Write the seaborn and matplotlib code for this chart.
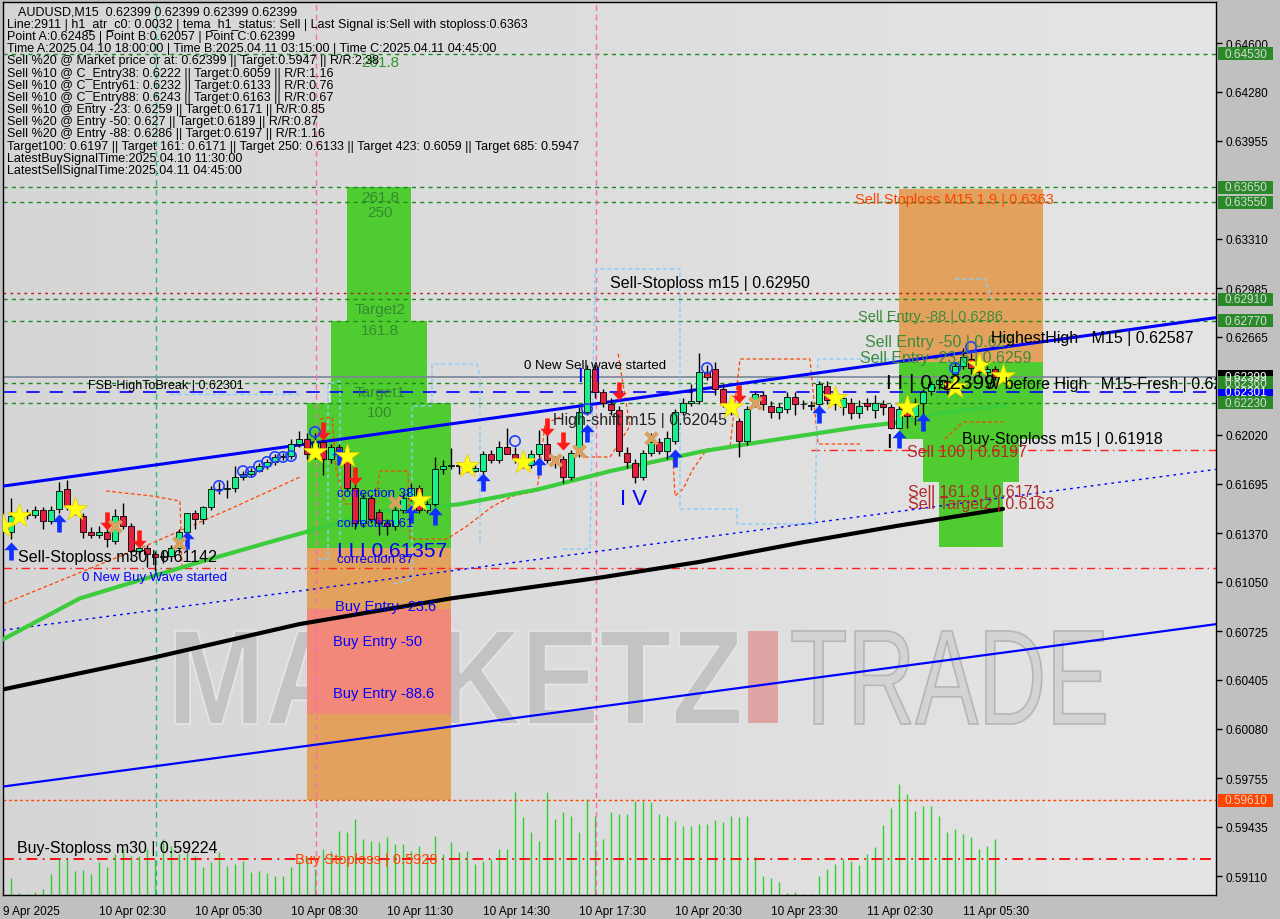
import numpy as np
import matplotlib
matplotlib.use("Agg")
import matplotlib.pyplot as plt
import seaborn as sns
from matplotlib.patches import Rectangle, PathPatch
from matplotlib.path import Path
from matplotlib.textpath import TextPath
from matplotlib.font_manager import FontProperties
from matplotlib.transforms import blended_transform_factory, Affine2D, IdentityTransform

# ---------------- data: AUDUSD M15 bars (index 0 = first bar on screen) ----------------
opens = [0.6138, 0.6148, 0.6150, 0.6149, 0.6152, 0.6145, 0.6153, 0.6166, 0.6155, 0.6148,
         0.6138, 0.6136, 0.6138, 0.6132, 0.6148, 0.6142, 0.6125, 0.6127, 0.6123, 0.6121,
         0.6122, 0.6127, 0.6138, 0.6150, 0.6146, 0.6154, 0.6166, 0.6166, 0.6167, 0.6174,
         0.6176, 0.6178, 0.6181, 0.6184, 0.6187, 0.6188, 0.6196, 0.6199, 0.6189, 0.6197,
         0.6186, 0.6194, 0.6191, 0.6167, 0.6144, 0.6160, 0.6151, 0.6144, 0.6142, 0.6152,
         0.6160, 0.6167, 0.6152, 0.6156, 0.6179, 0.6181, 0.6182, 0.6181, 0.6178, 0.6178,
         0.6189, 0.6185, 0.6194, 0.6189, 0.6186, 0.6182, 0.6189, 0.6196, 0.6185, 0.6186,
         0.6174, 0.6190, 0.6217, 0.6245, 0.6230, 0.6222, 0.6218, 0.6190, 0.6183, 0.6174,
         0.6190, 0.6197, 0.6191, 0.6198, 0.6217, 0.6223, 0.6224, 0.6243, 0.6245, 0.6232,
         0.6222, 0.6211, 0.6198, 0.6222, 0.6228, 0.6221, 0.6217, 0.6219, 0.6227, 0.6222,
         0.6221, 0.6222, 0.6234, 0.6225, 0.6220, 0.6223, 0.6216, 0.6223, 0.6218, 0.6222,
         0.6220, 0.6206, 0.6217, 0.6214, 0.6223, 0.6231, 0.6235, 0.6237, 0.6242, 0.6247,
         0.6252, 0.6245, 0.6243, 0.6245]
highs = [0.6160, 0.6153, 0.6153, 0.6155, 0.6154, 0.6155, 0.6171, 0.6172, 0.6158, 0.6150,
         0.6141, 0.6142, 0.6140, 0.6153, 0.6157, 0.6144, 0.6135, 0.6129, 0.6125, 0.6126,
         0.6129, 0.6140, 0.6150, 0.6152, 0.6155, 0.6168, 0.6171, 0.6172, 0.6181, 0.6178,
         0.6180, 0.6183, 0.6186, 0.6189, 0.6190, 0.6199, 0.6204, 0.6203, 0.6203, 0.6199,
         0.6196, 0.6196, 0.6193, 0.6170, 0.6163, 0.6162, 0.6153, 0.6146, 0.6154, 0.6163,
         0.6170, 0.6169, 0.6158, 0.6187, 0.6185, 0.6193, 0.6184, 0.6183, 0.6183, 0.6191,
         0.6192, 0.6198, 0.6206, 0.6194, 0.6190, 0.6192, 0.6205, 0.6210, 0.6188, 0.6188,
         0.6192, 0.6220, 0.6248, 0.62485, 0.6232, 0.6226, 0.6221, 0.6194, 0.6186, 0.6192,
         0.6203, 0.6200, 0.6204, 0.6219, 0.6226, 0.6235, 0.6256, 0.6248, 0.6250, 0.6235,
         0.6225, 0.6213, 0.6221, 0.6231, 0.6231, 0.6224, 0.6223, 0.6230, 0.6230, 0.6225,
         0.6224, 0.6237, 0.6237, 0.6228, 0.6229, 0.6226, 0.6225, 0.6226, 0.6228, 0.6225,
         0.6222, 0.6222, 0.6220, 0.6226, 0.6232, 0.6237, 0.6240, 0.6240, 0.6250, 0.62587,
         0.6256, 0.6248, 0.6247, 0.6247]
lows = [0.6133, 0.6145, 0.6146, 0.6147, 0.6140, 0.6143, 0.6150, 0.6152, 0.6149, 0.6134,
        0.6134, 0.6134, 0.6128, 0.6130, 0.6140, 0.6120, 0.6122, 0.6115, 0.6112, 0.6117,
        0.6119, 0.6124, 0.6136, 0.6140, 0.6143, 0.6152, 0.6163, 0.6160, 0.6164, 0.6172,
        0.6174, 0.6177, 0.6179, 0.6182, 0.6185, 0.6186, 0.6194, 0.6186, 0.6186, 0.6175,
        0.6183, 0.6188, 0.6165, 0.6140, 0.6141, 0.6144, 0.6136, 0.6136, 0.6139, 0.6150,
        0.6158, 0.6150, 0.6150, 0.6155, 0.6176, 0.6179, 0.6176, 0.6177, 0.6177, 0.6176,
        0.6183, 0.6183, 0.6189, 0.6183, 0.6180, 0.6180, 0.6187, 0.6183, 0.6180, 0.6170,
        0.6172, 0.6187, 0.6215, 0.6226, 0.6220, 0.6215, 0.6188, 0.6180, 0.6170, 0.6172,
        0.6188, 0.6189, 0.6186, 0.6196, 0.6215, 0.6221, 0.6222, 0.6238, 0.6228, 0.6220,
        0.6215, 0.6187, 0.6195, 0.6220, 0.6218, 0.6213, 0.6212, 0.6216, 0.6215, 0.6219,
        0.6218, 0.6214, 0.6222, 0.6218, 0.6215, 0.6212, 0.6213, 0.6218, 0.6213, 0.6215,
        0.62057, 0.6206, 0.6206, 0.6208, 0.6215, 0.6228, 0.6232, 0.6229, 0.6240, 0.6245,
        0.6242, 0.6240, 0.6240, 0.6238]
closes = [0.6148, 0.6150, 0.6149, 0.6152, 0.6145, 0.6152, 0.6165, 0.6155, 0.6151, 0.6138,
          0.6136, 0.6138, 0.6133, 0.6148, 0.6142, 0.6125, 0.6127, 0.6123, 0.6121, 0.6122,
          0.6127, 0.6138, 0.6150, 0.6146, 0.6154, 0.6166, 0.6166, 0.6167, 0.6174, 0.6176,
          0.6178, 0.6181, 0.6184, 0.6187, 0.6188, 0.6196, 0.6199, 0.6189, 0.6197, 0.6186,
          0.6194, 0.6191, 0.6167, 0.6144, 0.6160, 0.6146, 0.6144, 0.6142, 0.6152, 0.6160,
          0.6167, 0.6152, 0.6156, 0.6179, 0.6181, 0.6182, 0.6181, 0.6180, 0.6180, 0.6189,
          0.6185, 0.6194, 0.6189, 0.6186, 0.6183, 0.6189, 0.6196, 0.6185, 0.6183, 0.6174,
          0.6190, 0.6217, 0.6245, 0.6230, 0.6223, 0.6218, 0.6191, 0.6184, 0.6174, 0.6190,
          0.6197, 0.6191, 0.6200, 0.6217, 0.6223, 0.6224, 0.6243, 0.6240, 0.6232, 0.6222,
          0.6219, 0.6198, 0.6219, 0.6229, 0.6222, 0.6217, 0.6220, 0.6227, 0.6222, 0.6222,
          0.6221, 0.6235, 0.6225, 0.6222, 0.6226, 0.6216, 0.6221, 0.6221, 0.6223, 0.6220,
          0.6206, 0.6219, 0.6214, 0.6222, 0.6230, 0.6235, 0.6238, 0.6232, 0.6247, 0.6253,
          0.6246, 0.6243, 0.6245, 0.62399]
volumes = [170, 20, 10, 30, 60, 210, 360, 360, 240, 250, 210, 330, 280, 410, 460, 390, 390, 460,
           360, 560, 490, 410, 430, 390, 280, 330, 430, 290, 310, 340, 230, 240, 220, 190, 190,
           280, 340, 380, 260, 460, 440, 640, 630, 760, 560, 540, 530, 580, 510, 510, 440, 490,
           410, 590, 410, 530, 430, 440, 310, 340, 360, 460, 460, 1030, 780, 630, 540, 1030, 760,
           830, 790, 630, 960, 790, 560, 830, 810, 810, 940, 940, 930, 810, 790, 740, 690, 690,
           710, 710, 750, 730, 790, 780, 790, 380, 190, 170, 130, 20, 30, 10, 10, 190, 260, 310,
           360, 340, 300, 410, 480, 700, 870, 1110, 1010, 840, 890, 890, 790, 630, 660, 610, 580,
           460, 490, 560]

time_labels = ["9 Apr 2025", "10 Apr 02:30", "10 Apr 05:30", "10 Apr 08:30", "10 Apr 11:30",
               "10 Apr 14:30", "10 Apr 17:30", "10 Apr 20:30", "10 Apr 23:30", "11 Apr 02:30",
               "11 Apr 05:30"]
price_ticks = [0.64600, 0.64280, 0.63955, 0.63310, 0.62985, 0.62665, 0.62020, 0.61695, 0.61370,
               0.61050, 0.60725, 0.60405, 0.60080, 0.59755, 0.59435, 0.59110]

# moving averages / channel (bar index, price)
ma_green_x = [-1, 8.6, 23.6, 33.6, 46, 56, 66, 75, 86.5, 93.6, 106, 111, 116, 124]
ma_green_y = [0.6067, 0.6094, 0.6118, 0.6133, 0.6151, 0.6156, 0.6166, 0.6178, 0.6191, 0.6197,
              0.6207, 0.6210, 0.6216, 0.6221]
ma_black_x = [-1, 17, 36, 55, 74, 86, 99, 111, 124]
ma_black_y = [0.6034, 0.6054, 0.6077, 0.6094, 0.6108, 0.6118, 0.6131, 0.6142, 0.6153]
chan_x = [-1, 150.6]
chan_upper = [0.6168, 0.6279]
chan_lower = [0.5970, 0.6077]
chan_mid = [0.6073, 0.6179]

green_levels = [0.64530, 0.63650, 0.63550, 0.62910, 0.62770, 0.62360, 0.62230]

star_x = [-1, 1, 8, 38, 42, 51, 57, 64, 90, 103, 112, 118, 121, 124]
star_y = [0.61417, 0.61483, 0.61529, 0.61905, 0.61878, 0.61588, 0.61812, 0.61839, 0.62201,
          0.62261, 0.62201, 0.62333, 0.62478, 0.62406]
up_x = [0, 6, 22, 41, 50, 53, 59, 66, 72, 83, 101, 111, 114]
up_y = [0.61252, 0.61437, 0.61325, 0.61878, 0.61496, 0.61483, 0.61707, 0.61812, 0.62033,
        0.61868, 0.62155, 0.61990, 0.62102]
dn_x = [12, 16, 39, 43, 67, 69, 76, 91]
dn_y = [0.61450, 0.61331, 0.62043, 0.61747, 0.62069, 0.61977, 0.62307, 0.62287]
cross_x = [13, 21, 48, 68, 71, 80, 93]
cross_y = [0.61417, 0.61305, 0.61575, 0.61852, 0.61911, 0.61997, 0.62228]
circ_x = [26, 29, 30, 31, 32, 33, 34, 35, 38, 63, 72, 87, 118, 120]
circ_y = [0.61681, 0.61779, 0.61773, 0.61812, 0.61839, 0.61872, 0.61872, 0.61878, 0.62037,
          0.61977, 0.62188, 0.62458, 0.62458, 0.62597]

# ---------------- helpers for placing decorations by screen pixel ----------------
def px(x):
    return (x - 11) / 8.0

def py(y):
    return 0.6489 - 0.0000659 * y

sns.set_theme(style="white")
plt.rcParams['font.family'] = ['Liberation Sans', 'DejaVu Sans']

W, H = 1280, 920
fig = plt.figure(figsize=(12.8, 9.2), dpi=100, facecolor="#c0c0c0")
pos = [3 / W, (H - 896) / H, (1216 - 3) / W, (896 - 3) / H]
BG = "#dadada"

# volume panel sits under the price panel (also carries the background)
axv = fig.add_axes(pos, facecolor=BG)
axv.set_xticks([]); axv.set_yticks([])
for s in axv.spines.values():
    s.set_visible(False)
grad = np.linspace(0.835, 0.895, 256)[None, :]
axv.imshow(grad, cmap="gray", vmin=0, vmax=1, extent=[px(3), px(1216), 0, 8930],
           aspect="auto", zorder=0)
axv.set_xlim(px(3), px(1216))
axv.set_ylim(0, 8930)

# watermark, fitted into its pixel box
def watermark(s, box, weight, fc, ec):
    tp = TextPath((0, 0), s, size=100, prop=FontProperties(family="Liberation Sans", weight=weight))
    ext = tp.get_extents()
    x0, y0, x1, y1 = box
    sx = (x1 - x0) / ext.width
    sy = (y1 - y0) / ext.height
    t = Affine2D().translate(-ext.x0, -ext.y0).scale(sx, sy).translate(x0, H - y1)
    fig.add_artist(PathPatch(tp, transform=t + IdentityTransform(), fc=fc, ec=ec, lw=1.2,
                             zorder=0.2))

idx = np.arange(len(closes))

ax = fig.add_axes(pos, facecolor="none")
ax.set_xlim(px(3), px(1216))
ax.set_ylim(py(896), py(3))

watermark("MARKETZ", (175, 632, 740, 725), "bold", "#c3c3c3", "#e6e6e6")
watermark("TRADE", (792, 632, 1105, 725), "normal", "#d3d3d3", "#b6b6b6")
ax.add_patch(Rectangle((px(748), py(724)), px(778) - px(748), py(632) - py(724),
                       fc="#dfa4a4", ec="none", zorder=0.5))

# volume drawn above the watermark
axv.vlines(idx, 0, volumes, color="#32cd32", lw=1.0, zorder=2)
axv.set_zorder(0)
ax.set_zorder(1)

# zones
def zone(x0, x1, p0, p1, c):
    ax.add_patch(Rectangle((x0, p0), x1 - x0, p1 - p0, fc=c, ec="none", zorder=1))

GZ = "#4fcd30"
zone(37, 55, 0.5961, 0.6127, "#e2a25e")
zone(37, 55, 0.6018, 0.6087, "#f2887a")
zone(37, 55, 0.6127, 0.6223, GZ)
zone(40, 52, 0.6223, 0.6277, GZ)
zone(42, 50, 0.6277, 0.6365, GZ)
zone(111, 129, 0.6250, 0.6364, "#e2a25e")
zone(111, 129, 0.6199, 0.6250, GZ)
zone(114, 126, 0.6171, 0.6199, GZ)
zone(116, 124, 0.6128, 0.6171, GZ)

# horizontal levels
for lv in green_levels:
    ax.axhline(lv, color="#1e8a1e", lw=1, ls=(0, (3, 3)), zorder=2)
ax.axhline(0.62950, color="#b22222", lw=1, ls=(0, (2, 3)), zorder=2)
ax.axhline(0.62399, color="#7a8796", lw=1.2, zorder=2)
ax.axhline(0.62301, color="#0000ff", lw=1.2, ls=(0, (8, 6)), zorder=2)
ax.hlines(0.61918, 100, px(1216), color="#ff2020", lw=1, ls=(0, (6, 3, 1, 3)), zorder=2)
ax.axhline(0.61142, color="#ff2020", lw=1, ls=(0, (6, 3, 1, 3)), zorder=2)
ax.axhline(0.59610, color="#ff4500", lw=1, ls=(0, (2, 2)), zorder=2)
ax.axhline(0.59224, color="#ff0000", lw=1.3, ls=(0, (6, 3, 1, 3)), zorder=2)

# vertical markers
for xv, c in [(px(156), "#20c080"), (px(316), "#ff69b4"), (px(596), "#ff69b4")]:
    ax.axvline(xv, color=c, lw=1, ls=(0, (4, 3)), zorder=2)

# dashed step guides
orange_paths = [
    [(3, 605), (150, 545), (230, 510), (300, 478)],
    [(106, 492), (152, 497), (180, 502), (182, 567), (190, 567)],
    [(320, 420), (332, 418), (336, 470), (345, 505), (375, 505), (380, 472), (408, 472),
     (410, 540), (447, 540), (467, 527), (493, 507), (513, 497), (537, 492), (545, 425),
     (560, 418)],
    [(585, 458), (610, 458), (630, 427), (620, 367), (618, 353)],
    [(673, 460), (675, 497), (683, 490), (693, 470), (707, 450), (730, 448), (740, 360),
     (810, 360), (818, 445), (860, 445)],
    [(945, 440), (963, 423), (1003, 423)],
]
for p in orange_paths:
    ax.plot([px(a) for a, b in p], [py(b) for a, b in p], color="#ff4500", lw=0.9,
            ls=(0, (3, 2)), zorder=2.2)
blue_paths = [
    [(318, 560), (328, 560), (328, 385), (340, 382), (340, 540)],
    [(393, 585), (412, 580), (412, 407), (432, 407), (432, 365), (477, 365), (480, 377),
     (480, 545)],
    [(563, 550), (590, 550), (595, 270), (680, 270), (680, 510), (737, 510), (737, 525),
     (815, 525), (818, 360), (900, 360)],
    [(955, 280), (985, 280), (992, 300)],
    [(170, 395), (300, 395)],
]
for p in blue_paths:
    ax.plot([px(a) for a, b in p], [py(b) for a, b in p], color="#87cefa", lw=1,
            ls=(0, (3, 2)), zorder=2.2)

# channel + averages
sns.lineplot(x=chan_x, y=chan_upper, ax=ax, color="#0000ff", lw=2.2, zorder=3)
sns.lineplot(x=chan_x, y=chan_lower, ax=ax, color="#0000ff", lw=1.6, zorder=3)
sns.lineplot(x=chan_x, y=chan_mid, ax=ax, color="#0000ff", lw=1, ls=(0, (2, 3)), zorder=3)
sns.lineplot(x=ma_black_x, y=ma_black_y, ax=ax, color="#000000", lw=3, zorder=3)
sns.lineplot(x=ma_green_x, y=ma_green_y, ax=ax, color="#3ccc3c", lw=3, zorder=3)

# candles
o = np.array(opens); c = np.array(closes); h = np.array(highs); l = np.array(lows)
ax.vlines(idx, l, h, color="black", lw=1, zorder=4)
up = c >= o
body_lo = np.minimum(o, c)
body_h = np.maximum(np.abs(c - o), 0.00003)
ax.bar(idx[up], body_h[up], bottom=body_lo[up], width=0.72, color="#19f08c",
       edgecolor="black", lw=0.6, zorder=5)
ax.bar(idx[~up], body_h[~up], bottom=body_lo[~up], width=0.72, color="#e0203c",
       edgecolor="black", lw=0.6, zorder=5)

# signal markers
arrow = Path([(0, 0.7), (0.55, 0.1), (0.18, 0.1), (0.18, -0.7), (-0.18, -0.7), (-0.18, 0.1),
              (-0.55, 0.1), (0, 0.7)])
arrow_dn = Path(arrow.vertices * np.array([1, -1]))
ax.scatter(up_x, up_y, marker=arrow, s=170, color="#1030ff", zorder=6, lw=0)
ax.scatter(dn_x, dn_y, marker=arrow_dn, s=170, color="#ff1a1a", zorder=6, lw=0)
ax.scatter(cross_x, cross_y, marker="x", s=70, color="#d9a060", lw=3, zorder=6)
ax.scatter(circ_x, circ_y, marker="o", s=55, facecolor="none", edgecolor="#2040ff", lw=1.2,
           zorder=6)
ax.scatter(star_x, star_y, marker="*", s=330, color="#ffff10", edgecolor="#e8c800", lw=0.5,
           zorder=6)

# text annotations
def label(x, y, s, color="black", size=11.5, ha="left", **kw):
    ax.text(px(x), py(y), s, color=color, fontsize=size, ha=ha, va="center", zorder=7,
            clip_on=True, **kw)

DG = "#2f7f2f"
for yy, s in [(198, "261.8"), (213, "250"), (310, "Target2"), (331, "161.8"),
              (393, "Target1"), (413, "100")]:
    label(380, yy, s, DG, 11, ha="center", alpha=0.85)
label(380, 63, "261.8", "#2a9a2a", 11, ha="center")

label(610, 283, "Sell-Stoploss m15 | 0.62950")
label(524, 366, "0 New Sell wave started", size=9.5)
label(88, 386, "FSB-HighToBreak | 0.62301", size=9)
label(553, 420, "High-shift m15 | 0.62045", "#222222")
label(620, 499, "I V", "#0000ff", 16)
label(578, 376, "I  I", "#0000ff", 15)
label(337, 494, "correction 38", "#0000ff", 9.5)
label(337, 524, "correction 61", "#0000ff", 9.5)
label(337, 560, "correction 87", "#0000ff", 9.5)
label(337, 551, "I I I 0.61357", "#0000ff", 15)
label(18, 557, "Sell-Stoploss m30 | 0.61142")
label(82, 578, "0 New Buy Wave started", "#0000ff", 9.5)
label(335, 607, "Buy Entry -23.6", "#0000ff", 10.5)
label(333, 642, "Buy Entry -50", "#0000ff", 10.5)
label(333, 694, "Buy Entry -88.6", "#0000ff", 10.5)
label(17, 848, "Buy-Stoploss m30 | 0.59224")
label(295, 860, "Buy Stoploss | 0.5928", "#ff4500", 10.5)
label(855, 200, "Sell Stoploss M15 1.9 | 0.6363", "#ff4500", 10.5)
label(858, 317, "Sell Entry -88 | 0.6286", "#3c8c3c", 10.5)
label(865, 342, "Sell Entry -50 | 0.627", "#3c8c3c", 11.5)
label(860, 358, "Sell Entry -23.6 | 0.6259", "#3c8c3c", 11.5)
label(991, 338, "HighestHigh   M15 | 0.62587")
label(886, 383, "I I | 0.62399", size=15)
label(985, 384, "W before High   M15-Fresh | 0.6230")
label(962, 439, "Buy-Stoploss m15 | 0.61918")
label(886, 442, "I", size=15)
label(907, 452, "Sell 100 | 0.6197", "#b22a2a", 11.5)
label(908, 492, "Sell 161.8 | 0.6171", "#b22a2a", 11.5)
label(908, 504, "Sell Target2 | 0.6163", "#b22a2a", 11.5)

info = [
    "Line:2911 | h1_atr_c0: 0.0032 | tema_h1_status: Sell | Last Signal is:Sell with stoploss:0.6363",
    "Point A:0.62485 | Point B:0.62057 | Point C:0.62399",
    "Time A:2025.04.10 18:00:00 | Time B:2025.04.11 03:15:00 | Time C:2025.04.11 04:45:00",
    "Sell %20 @ Market price or at: 0.62399 || Target:0.5947 || R/R:2.38",
    "Sell %10 @ C_Entry38: 0.6222 || Target:0.6059 || R/R:1.16",
    "Sell %10 @ C_Entry61: 0.6232 || Target:0.6133 || R/R:0.76",
    "Sell %10 @ C_Entry88: 0.6243 || Target:0.6163 || R/R:0.67",
    "Sell %10 @ Entry -23: 0.6259 || Target:0.6171 || R/R:0.85",
    "Sell %20 @ Entry -50: 0.627 || Target:0.6189 || R/R:0.87",
    "Sell %20 @ Entry -88: 0.6286 || Target:0.6197 || R/R:1.16",
    "Target100: 0.6197 || Target 161: 0.6171 || Target 250: 0.6133 || Target 423: 0.6059 || Target 685: 0.5947",
    "LatestBuySignalTime:2025.04.10 11:30:00",
    "LatestSellSignalTime:2025.04.11 04:45:00",
]
label(18, 12, "AUDUSD,M15  0.62399 0.62399 0.62399 0.62399", size=9)
for k, s in enumerate(info):
    label(7, 25 + k * 12.15, s, size=9)

# axes styling
ax.yaxis.tick_right()
ax.set_yticks(price_ticks)
ax.set_yticklabels([f"{t:.5f}" for t in price_ticks])
ax.set_xticks([-1 + 12 * k for k in range(len(time_labels))])
ax.set_xticklabels(time_labels)
for t in ax.get_xticklabels():
    t.set_ha("left")
ax.tick_params(axis="both", colors="black", labelsize=8.5, length=4, width=1, direction="out",
               pad=3)
for s in ax.spines.values():
    s.set_color("black")
    s.set_linewidth(1)
ax.grid(False)

# price boxes on the right scale
tr = blended_transform_factory(ax.transAxes, ax.transData)
bx0 = (1218 - 3) / 1213.0
bw = (1273 - 1218) / 1213.0
bh = 13 * 0.0000659
def price_box(price, fc, tc):
    ax.add_patch(Rectangle((bx0, price - bh / 2), bw, bh, transform=tr, fc=fc, ec="none",
                           clip_on=False, zorder=10))
    ax.text(bx0 + bw / 2, price, f"{price:.5f}", transform=tr, ha="center", va="center",
            fontsize=8.5, color=tc, clip_on=False, zorder=11)

price_box(0.62399, "#000000", "#ffffff")
price_box(0.62301, "#0000ff", "#ffffff")
for lv in green_levels:
    price_box(lv, "#2a8a2a", "#d8d8d8")
price_box(0.59610, "#ff4500", "#f0d0c0")

fig.savefig("out.png", dpi=100, facecolor=fig.get_facecolor())
